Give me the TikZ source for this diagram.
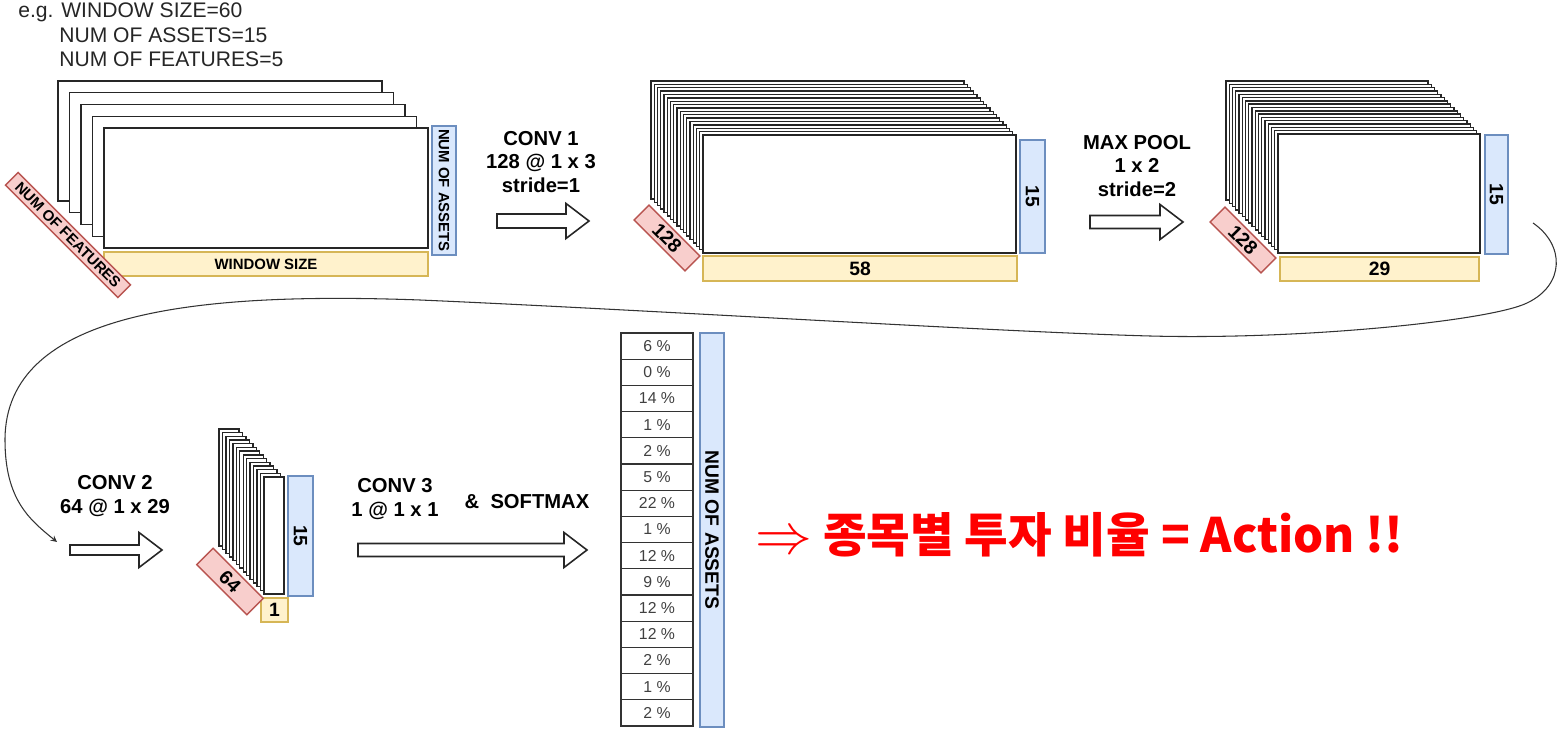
\documentclass[tikz,border=0pt]{standalone}
\usepackage{fontspec}
\setmainfont{Liberation Sans}
\newfontfamily\kofont{Noto Sans CJK KR}
\usepackage{graphicx}
\usepackage{tikz}
\usetikzlibrary{positioning}

\definecolor{assetFill}{HTML}{DAE8FC}
\definecolor{assetLine}{HTML}{6C8EBF}
\definecolor{windowFill}{HTML}{FFF2CC}
\definecolor{windowLine}{HTML}{D6B656}
\definecolor{featureFill}{HTML}{F8CECC}
\definecolor{featureLine}{HTML}{B85450}

\newlength\unitpx
\setlength\unitpx{0.02cm}

% x, y, length, half shaft
\newcommand{\blockarrow}[4]{%
  \draw[blockarrow] (#1,#2-#4) -- (#1+#3-23,#2-#4) -- (#1+#3-23,#2-17.5) -- (#1+#3,#2)
    -- (#1+#3-23,#2+17.5) -- (#1+#3-23,#2+#4) -- (#1,#2+#4) -- cycle;}

\begin{document}
\begin{tikzpicture}[x=0.02cm,y=-0.02cm]
  \tikzset{layer/.style={draw=black!85,fill=white,line width=0.8pt}}
  \tikzset{sizebox/.style={draw,line width=0.8pt,inner sep=0pt,font=\bfseries\fontsize{11}{13}\selectfont}}
  \tikzset{assetbox/.style={sizebox,draw=assetLine,fill=assetFill,rotate=-90}}
  \tikzset{windowbox/.style={sizebox,draw=windowLine,fill=windowFill}}
  \tikzset{featurebox/.style={sizebox,draw=featureLine,fill=featureFill,rotate=-45}}
  \tikzset{smalltext/.style={font=\bfseries\fontsize{8.5}{10}\selectfont}}
  \tikzset{blockarrow/.style={draw=black!85,fill=white,line width=0.9pt}}
  \tikzset{layername/.style={font=\bfseries\fontsize{11.5}{13.6}\selectfont,align=center}}
  \tikzset{cell/.style={draw=black!80,fill=white,line width=0.7pt,minimum width=72\unitpx,minimum height=26.2\unitpx,inner sep=0pt,font=\fontsize{9}{10}\selectfont,text=black!75}}
  \tikzset{note/.style={anchor=base west,inner sep=0pt,text=black!85,font=\fontsize{12}{14}\selectfont}}
  \tikzset{flow/.style={->,>=stealth,draw=black!80,line width=0.6pt}}
  \path[use as bounding box,fill=white] (0,0) rectangle (1565,732);

  % example sizes
  \node[note] (note1) at (18,18) {e.g. WINDOW SIZE=60};
  \node[note] (note2) at (59,43) {NUM OF ASSETS=15};
  \node[note] (note3) at (59,67) {NUM OF FEATURES=5};

  % input
  \foreach \i in {0,...,4}
    \draw[layer] (58+11.5*\i,81+11.75*\i) rectangle ++(324,120);
  \node[assetbox,smalltext,minimum width=129\unitpx,minimum height=24\unitpx] (assets1) at (444,190.5) {NUM OF ASSETS};
  \node[windowbox,smalltext,minimum width=324\unitpx,minimum height=24\unitpx] (window1) at (266,264) {WINDOW SIZE};
  \node[featurebox,smalltext,minimum width=159\unitpx,minimum height=18\unitpx] (feat1) at (68,235) {NUM OF FEATURES};

  % conv 1
  \node[layername] (conv1) at (541,162) {CONV 1\\128 @ 1 x 3\\stride=1};
  \blockarrow{497}{221}{92}{7}
  \foreach \i in {0,...,16}
    \draw[layer] (651+52*\i/16,81+54*\i/16) rectangle ++(313,118);
  \node[assetbox,minimum width=113\unitpx,minimum height=25\unitpx] (assets2) at (1032.5,196.5) {15};
  \node[windowbox,minimum width=314\unitpx,minimum height=25\unitpx] (window2) at (860,268.5) {58};
  \node[featurebox,minimum width=72\unitpx,minimum height=21\unitpx] (feat2) at (667,238) {128};

  % max pool
  \node[layername] (pool) at (1137,166) {MAX POOL\\1 x 2\\stride=2};
  \blockarrow{1090}{222}{93}{6.5}
  \foreach \i in {0,...,16}
    \draw[layer] (1226+52*\i/16,81+53*\i/16) rectangle ++(202,119);
  \node[assetbox,minimum width=119\unitpx,minimum height=23\unitpx] (assets3) at (1496.5,194.5) {15};
  \node[windowbox,minimum width=199\unitpx,minimum height=24\unitpx] (window3) at (1379.5,269) {29};
  \node[featurebox,minimum width=72\unitpx,minimum height=21\unitpx] (feat3) at (1243,240) {128};

  % wrap to next row
  \coordinate (curvestart) at (1533,223);
  \coordinate (curveend) at (57,542);
  \draw[flow] (curvestart) .. controls (1565,245) and (1565,285) .. (1527,303)
    .. controls (1490,321) and (1300,340) .. (1150,336)
    .. controls (1000,332) and (650,310) .. (420,300)
    .. controls (200,292) and (5,310) .. (5,440)
    .. controls (5,500) and (30,520) .. (curveend);

  % conv 2
  \node[layername] (conv2) at (115,496) {CONV 2\\64 @ 1 x 29};
  \blockarrow{70}{550}{92}{5}
  \foreach \i in {0,...,13}
    \draw[layer] (219+45*\i/13,429+48*\i/13) rectangle ++(20,117);
  \node[assetbox,minimum width=120\unitpx,minimum height=25\unitpx] (assets4) at (300.5,536) {15};
  \node[windowbox,minimum width=27\unitpx,minimum height=24\unitpx] (window4) at (274.5,610) {1};
  \node[featurebox,minimum width=71\unitpx,minimum height=23\unitpx] (feat4) at (230,581.5) {64};

  % conv 3 + softmax
  \node[layername] (conv3) at (395,499) {CONV 3\\1 @ 1 x 1};
  \node[layername] (softmax) at (527,502) {\&\ \ SOFTMAX};
  \blockarrow{358}{550}{229}{6.5}
  \foreach \v [count=\k] in {6,0,14,1,2,5,22,1,12,9,12,12,2,1,2}
    \node[cell] (out\k) at (657,333+26.2*\k-13.1) {\v{} \%};
  \node[assetbox,minimum width=394\unitpx,minimum height=24\unitpx] (assets5) at (712,530) {NUM OF ASSETS};

  \node[anchor=base west,inner sep=0pt,text=red,font=\kofont\bfseries\fontsize{27}{30}\selectfont] (action) at (755,553) {\raisebox{-0.5pt}{\scalebox{1.3}{$\Rightarrow$}} 종목별 투자 비율 = Action !!};
\end{tikzpicture}
\end{document}
